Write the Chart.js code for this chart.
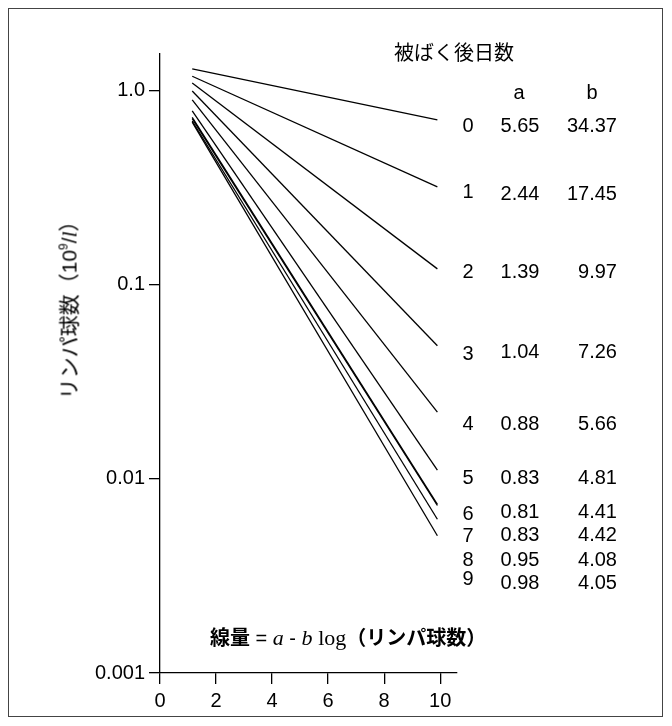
<!DOCTYPE html>
<html>
<head>
<meta charset="utf-8">
<script src="https://cdn.jsdelivr.net/npm/chart.js@4.4.1/dist/chart.umd.min.js"></script>
<style>
  html, body { margin: 0; padding: 0; background: #fff; }
  #wrap { position: relative; width: 672px; height: 726px; overflow: hidden; }
  #frame { position: absolute; left: 8px; top: 8px; width: 655px; height: 709px; border: 1px solid #444; box-sizing: border-box; }
  canvas { position: absolute; left: 0; top: 0; }
  .t { position: absolute; white-space: nowrap; line-height: 1; color: #000; font-family: "Liberation Sans", Arial, sans-serif; font-size: 20px; }
  .jp { font-family: "Noto Sans CJK JP", sans-serif; }
  .c { transform: translate(-50%, -50%); }
  .r { transform: translate(-100%, -50%); }
  .l { transform: translate(0, -50%); }
  .serif { font-family: "Liberation Serif", "Times New Roman", serif; }
</style>
</head>
<body>
<div id="wrap">
  <div id="frame"></div>
  <canvas id="chart" width="672" height="726"></canvas>
  <div id="notes"></div>
</div>
<script>
// --- données ---
const days = ['0', '1', '2', '3', '4', '5', '6', '7', '8', '9'];
const coefA = ['5.65', '2.44', '1.39', '1.04', '0.88', '0.83', '0.81', '0.83', '0.95', '0.98'];
const coefB = ['34.37', '17.45', '9.97', '7.26', '5.66', '4.81', '4.41', '4.42', '4.08', '4.05'];
const doseRange = [1.15, 9.9];
const countStart = [1.30, 1.19, 1.10, 1.00, 0.90, 0.79, 0.73, 0.72, 0.70, 0.69];
const countEnd = [0.71, 0.32, 0.121, 0.0486, 0.0221, 0.0111, 0.0074, 0.0073, 0.0062, 0.0051];
const xTicks = [0, 2, 4, 6, 8, 10];
const yTicks = [0.001, 0.01, 0.1, 1];
const yTickLabels = ['0.001', '0.01', '0.1', '1.0'];

// position verticale des lignes du tableau (étiquette du jour, valeurs)
const rowLabelY = [125, 191, 271, 353, 423, 477, 513, 535, 559, 578];
const rowValueY = [125, 193, 271, 351, 423, 477, 511, 534, 559, 582];

const tickFont = { family: '"Liberation Sans", Arial, sans-serif', size: 20 };

new Chart(document.getElementById('chart').getContext('2d'), {
    type: 'scatter',
    data: {
        datasets: days.map((d, i) => ({
            label: d,
            data: [{ x: doseRange[0], y: countStart[i] }, { x: doseRange[1], y: countEnd[i] }],
            showLine: true,
            borderColor: '#000',
            borderWidth: 1.3,
            pointRadius: 0
        }))
    },
    options: {
        responsive: false,
        animation: false,
        layout: { padding: { left: 70, right: 215, top: 54, bottom: 8 } },
        plugins: { legend: { display: false }, tooltip: { enabled: false } },
        scales: {
            x: {
                type: 'linear', min: 0, max: 10.6,
                afterBuildTicks: s => { s.ticks = xTicks.map(v => ({ value: v })); },
                afterFit: s => { s.height = 45; },
                ticks: { color: '#000', font: tickFont, padding: 5 },
                grid: { drawOnChartArea: false, drawTicks: true, tickLength: 11, color: '#000', lineWidth: 1.3 },
                border: { color: '#000', width: 1.3 }
            },
            y: {
                type: 'logarithmic', min: 0.001, max: 1.55,
                afterBuildTicks: s => { s.ticks = yTicks.map(v => ({ value: v })); },
                afterFit: s => { s.width = 90; },
                ticks: {
                    color: '#000', font: tickFont, padding: 4,
                    callback: v => yTickLabels[yTicks.indexOf(v)]
                },
                grid: { drawOnChartArea: false, drawTicks: true, tickLength: 11, color: '#000', lineWidth: 1.3 },
                border: { color: '#000', width: 1.3 }
            }
        }
    }
});

// --- annotations ---
const notes = document.getElementById('notes');
function put(html, x, y, cls) {
    const el = document.createElement('div');
    el.className = 't ' + cls;
    el.style.left = x + 'px';
    el.style.top = y + 'px';
    el.innerHTML = html;
    notes.appendChild(el);
    return el;
}

put('被ばく後日数', 394, 52, 'jp l');
put('a', 519, 92, 'c');
put('b', 592, 92, 'c');
days.forEach((d, i) => {
    put(d, 468, rowLabelY[i], 'c');
    put(coefA[i], 520, rowValueY[i], 'c');
    put(coefB[i], 617, rowValueY[i], 'r');
});

put('<span class="jp" style="font-weight:bold">線量</span> = <span class="serif" style="font-style:italic;font-size:22px">a</span> - ' +
    '<span class="serif" style="font-style:italic;font-size:22px">b</span> <span class="serif" style="font-size:22px">log</span>' +
    '<span class="jp" style="font-weight:bold">（リンパ球数）</span>', 210, 638, 'l').style.fontSize = '20px';

const yt = put('<span class="jp">リンパ球数（</span>10<sup style="font-size:12px;vertical-align:9px">9</sup>/' +
    '<span class="serif" style="font-style:italic">l</span><span class="jp">）</span>', 69, 305, 'c');
yt.style.fontSize = '21px';
yt.style.transform = 'translate(-50%, -50%) rotate(-90deg)';
</script>
</body>
</html>
